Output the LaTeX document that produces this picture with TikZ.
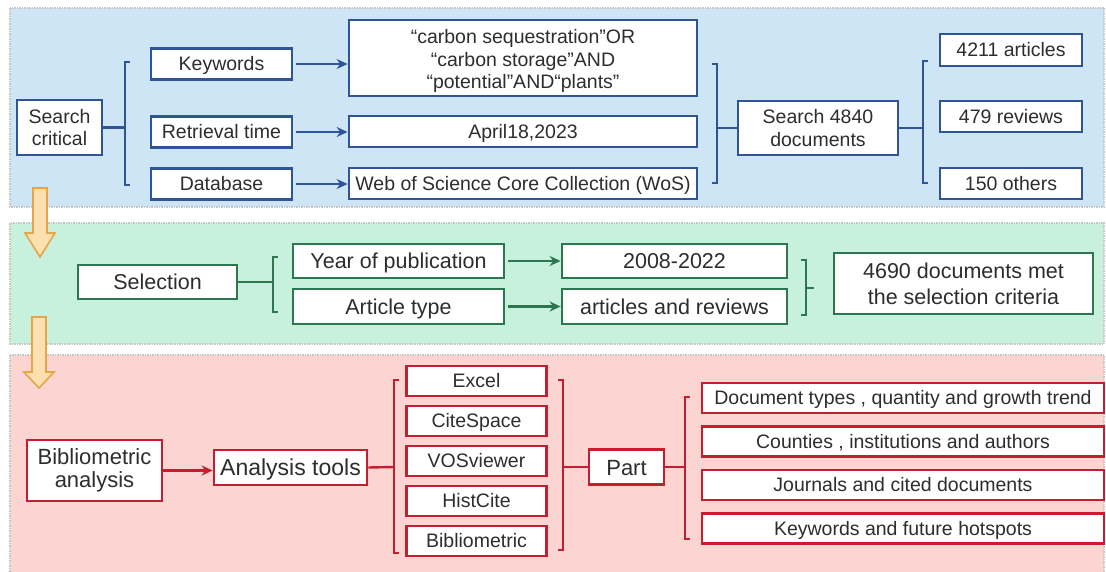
\documentclass[tikz,border=0pt]{standalone}
\usepackage{fontspec}
\setmainfont{Liberation Sans}
\usepackage{xcolor}
\usetikzlibrary{arrows.meta,positioning,calc}
\definecolor{ink}{RGB}{45,45,45}
\definecolor{skyP}{RGB}{206,229,246}
\definecolor{mintP}{RGB}{199,241,220}
\definecolor{roseP}{RGB}{252,213,211}
\definecolor{blueL}{RGB}{47,85,151}
\definecolor{greenL}{RGB}{44,118,80}
\definecolor{redL}{RGB}{196,30,48}
\definecolor{ochre}{RGB}{232,165,70}
\definecolor{cream}{RGB}{253,224,176}
\tikzset{
  panel/.style={draw=gray!45,dash pattern=on 1.5pt off 1pt,line width=1.2pt},
  box/.style={draw=#1,fill=white,line width=2.8pt,inner sep=1pt,align=center,text=ink},
  one/.style={text height=17pt,text depth=4pt},
  bigtxt/.style={font=\fontsize{21.5}{26}\selectfont},
  link/.style={-{Stealth[length=11pt,width=10pt]},line width=2.5pt,#1,shorten <=3pt},
  brk/.style={line width=2.4pt,#1},
}
% bracket: colour, x, top y, bottom y, hook
\newcommand{\sidebar}[5]{\draw[brk=#1] (#2+#5,#3) -- (#2,#3) -- (#2,#4) -- (#2+#5,#4);}
% hollow stage arrow: centre x, top y, head y, tip y
\newcommand{\stagearrow}[4]{\draw[fill=cream,draw=ochre,line width=1.6pt,line join=miter]
  (#1-7,#2) -- (#1-7,#3) -- (#1-15,#3) -- (#1,#4) -- (#1+15,#3) -- (#1+7,#3) -- (#1+7,#2) -- cycle;}

\begin{document}
\begin{tikzpicture}[x=1pt,y=-1pt,font=\fontsize{19.5}{22.5}\selectfont]
\useasboundingbox (0,0) rectangle (1106,571);
% stage panels
\draw[panel,fill=skyP] (10,8) rectangle (1104,207);
\draw[panel,fill=mintP] (10,223) rectangle (1104,344);
\draw[panel,fill=roseP] (10,355) rectangle (1104,578);
\stagearrow{40}{188}{233}{257}
\stagearrow{39}{317}{372}{388}

% search
\node[box=blueL,minimum width=85,minimum height=55] (crit) at (59.5,127.5) {Search\\critical};
\node[box=blueL,one,minimum width=141,minimum height=31] (kw) at (221.5,64) {Keywords};
\node[box=blueL,one,minimum width=141,minimum height=31] (rt) at (221.5,132) {Retrieval time};
\node[box=blueL,one,minimum width=141,minimum height=31] (db) at (221.5,184) {Database};
\node[box=blueL,minimum width=348,minimum height=76] (terms) at (523,58)
  {\rule{0pt}{21pt}“carbon sequestration”OR\\“carbon storage”AND\\“potential”AND“plants”};
\node[box=blueL,one,minimum width=348,minimum height=31] (date) at (523,131.5) {April18,2023};
\node[box=blueL,one,minimum width=348,minimum height=31] (wos) at (523,183.5) {Web of Science Core Collection (WoS)};
\node[box=blueL,minimum width=160,minimum height=54] (hits) at (818,128) {Search 4840\\documents};
\node[box=blueL,one,minimum width=142,minimum height=32] (arts) at (1011,50) {4211 articles};
\node[box=blueL,one,minimum width=142,minimum height=31] (revs) at (1011,116.5) {479 reviews};
\node[box=blueL,one,minimum width=142,minimum height=31] (oths) at (1011,183.5) {150 others};
\draw[link=blueL] (kw.east) -- (kw.east -| terms.west);
\draw[link=blueL] (rt.east) -- (rt.east -| date.west);
\draw[link=blueL] (db.east) -- (db.east -| wos.west);
\coordinate (jA) at (125,127.5);
\coordinate (jB) at (717,128);
\coordinate (jC) at (923,128);
\draw[brk=blueL] (crit.east) -- (jA);
\sidebar{blueL}{125}{62}{185}{5}
\sidebar{blueL}{717}{64}{183}{-5}
\draw[brk=blueL] (jB) -- (hits.west);
\draw[brk=blueL] (hits.east) -- (jC);
\sidebar{blueL}{923}{61}{183}{5}

% selection
\node[box=greenL,bigtxt,one,text height=19pt,minimum width=159,minimum height=34] (sel) at (157.5,282) {Selection};
\node[box=greenL,bigtxt,one,text height=19pt,minimum width=211,minimum height=34] (yp) at (398.5,261) {Year of publication};
\node[box=greenL,bigtxt,one,text height=19pt,minimum width=211,minimum height=35] (atype) at (398.5,306.5) {Article type};
\node[box=greenL,bigtxt,one,text height=19pt,minimum width=225,minimum height=34] (yrs) at (674.5,261) {2008-2022};
\node[box=greenL,bigtxt,one,text height=19pt,minimum width=225,minimum height=35] (both) at (674.5,306.5) {articles and reviews};
\node[box=greenL,bigtxt,minimum width=259,minimum height=61] (met) at (963.5,283.5)
  {4690 documents met\\the selection criteria};
\draw[link=greenL] (yp.east) -- (yp.east -| yrs.west);
\draw[link=greenL] (atype.east) -- (atype.east -| both.west);
\coordinate (jD) at (273,282);
\coordinate (jE) at (806,288);
\coordinate (jEend) at (814,288);
\draw[brk=greenL] (sel.east) -- (jD);
\sidebar{greenL}{273}{257}{312}{5}
\sidebar{greenL}{806}{260}{315}{-5}
\draw[brk=greenL] (jE) -- (jEend);

% analysis
\node[box=redL,font=\fontsize{22}{22.5}\selectfont,minimum width=135,minimum height=61] (biblio) at (94.5,470.5) {Bibliometric\\analysis};
\node[box=redL,one,text height=20pt,font=\fontsize{23}{24}\selectfont,minimum width=153,minimum height=35] (tools) at (290.5,467.5) {Analysis tools};
\node[box=redL,one,minimum width=140,minimum height=30] (excel) at (476.5,381) {Excel};
\node[box=redL,one,minimum width=140,minimum height=30,below=7.2pt of excel] (cite) {CiteSpace};
\node[box=redL,one,minimum width=140,minimum height=30,below=7.2pt of cite] (vos) {VOSviewer};
\node[box=redL,one,minimum width=140,minimum height=30,below=7.2pt of vos] (hist) {HistCite};
\node[box=redL,one,minimum width=140,minimum height=30,below=7.2pt of hist] (bibl) {Bibliometric};
\node[box=redL,one,text height=20pt,font=\fontsize{22}{22.5}\selectfont,minimum width=75,minimum height=35] (part) at (626.5,467) {Part};
\node[box=redL,one,minimum width=402,minimum height=30] (pA) at (903,398) {Document types , quantity and growth trend};
\node[box=redL,one,minimum width=402,minimum height=30,below=10.7pt of pA] (pB) {Counties , institutions and authors};
\node[box=redL,one,minimum width=402,minimum height=30,below=10.7pt of pB] (pC) {Journals and cited documents};
\node[box=redL,one,minimum width=402,minimum height=30,below=10.7pt of pC] (pD) {Keywords and future hotspots};
\draw[link=redL,shorten <=0pt] (biblio.east) -- (biblio.east -| tools.west);
\coordinate (jF) at (394,467);
\coordinate (jG) at (563,467);
\coordinate (jH) at (685,467);
\draw[brk=redL] (tools.east) -- (jF);
\sidebar{redL}{394}{380}{553}{5}
\sidebar{redL}{563}{380}{550}{-5}
\draw[brk=redL] (jG) -- (part.west);
\draw[brk=redL] (part.east) -- (jH);
\sidebar{redL}{685}{397}{539}{5}
\end{tikzpicture}
\end{document}
